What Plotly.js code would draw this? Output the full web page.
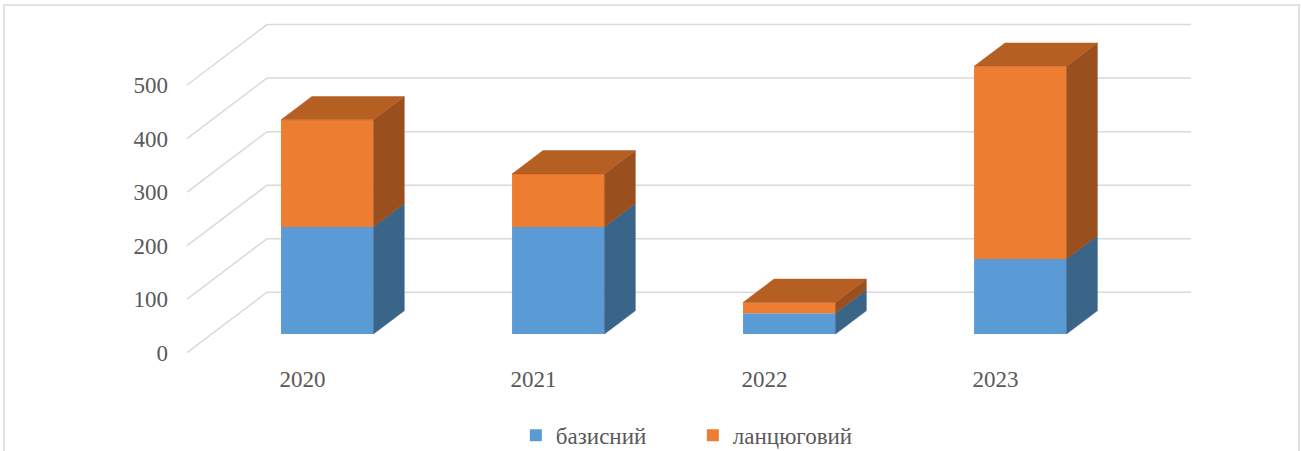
<!DOCTYPE html>
<html>
<head>
<meta charset="utf-8">
<script src="https://cdn.plot.ly/plotly-3.0.1.min.js"></script>
<style>
  html, body { margin: 0; padding: 0; background: #ffffff; }
  #chart { width: 1301px; height: 451px; }
</style>
</head>
<body>
<div id="chart"></div>
<script>
// ---- data ----
const years = ['2020', '2021', '2022', '2023'];
const basis = [200, 200, 39, 140];   // базисний
const chain = [200, 99, 20, 360];    // ланцюговий
const yTicks = [0, 100, 200, 300, 400, 500];

// ---- 3D look (projection constants, in axis units) ----
const DEPTH_X = 0.3463;   // x shift for full depth (front plane -> back wall)
const DEPTH_Y = 112.9;    // y shift for full depth
const BAR_FRONT = 0.309;  // depth of bar front faces
const BAR_BACK = 0.695;   // depth of bar back faces
const BAR_W = 0.4;
const X_MIN = -0.5, X_MAX = 3.5;

const colors = {
  blue: '#5B9BD5', blueSide: '#3A6589', blueTop: '#4A7DAE',
  orange: '#ED7D31', orangeSide: '#9A501E', orangeTop: '#B65F22',
  grid: '#D9D9D9', text: '#595959'
};

function P(x, v, d) { return [x + d * DEPTH_X, v + d * DEPTH_Y]; }

const traces = [];

// gridlines (side wall diagonal + back wall line), drawn below all traces
const gridShapes = [];
yTicks.forEach(v => {
  const a = P(X_MIN, v, 0), b = P(X_MIN, v, 1), c = P(X_MAX, v, 1);
  gridShapes.push({
    type: 'path', xref: 'x', yref: 'y', layer: 'below',
    path: `M${a[0]},${a[1]}L${b[0]},${b[1]}L${c[0]},${c[1]}`,
    line: { color: colors.grid, width: 1.5 }
  });
});

function poly(pts, color) {
  const xs = pts.map(p => p[0]), ys = pts.map(p => p[1]);
  xs.push(xs[0]); ys.push(ys[0]);
  traces.push({ type: 'scatter', mode: 'lines', x: xs, y: ys, fill: 'toself', fillcolor: color,
    line: { color: color, width: 0.5 }, showlegend: false, hoverinfo: 'skip' });
}

years.forEach((yr, i) => {
  const segs = [
    { v0: 0, v1: basis[i], side: colors.blueSide, top: colors.blueTop },
    { v0: basis[i], v1: basis[i] + chain[i], side: colors.orangeSide, top: colors.orangeTop }
  ];
  const xl = i - BAR_W / 2, xr = i + BAR_W / 2;
  segs.forEach((s, k) => {
    // right side face
    poly([P(xr, s.v0, BAR_FRONT), P(xr, s.v0, BAR_BACK), P(xr, s.v1, BAR_BACK), P(xr, s.v1, BAR_FRONT)], s.side);
    // top face of the stack
    if (k === segs.length - 1) {
      poly([P(xl, s.v1, BAR_FRONT), P(xl, s.v1, BAR_BACK), P(xr, s.v1, BAR_BACK), P(xr, s.v1, BAR_FRONT)], s.top);
    }
  });
});

// front faces as stacked bars
const xFront = years.map((_, i) => P(i, 0, BAR_FRONT)[0]);
const base0 = P(0, 0, BAR_FRONT)[1];
traces.push({ type: 'bar', name: 'базисний', x: xFront, y: basis, base: basis.map(() => base0),
  width: BAR_W, marker: { color: colors.blue, line: { width: 0 } }, hoverinfo: 'skip' });
traces.push({ type: 'bar', name: 'ланцюговий', x: xFront, y: chain, base: basis.map(b => base0 + b),
  width: BAR_W, marker: { color: colors.orange, line: { width: 0 } }, hoverinfo: 'skip' });

const FAMILY = 'Liberation Serif, Times New Roman, serif';
function mkFont() { return { family: FAMILY, size: 23, color: colors.text }; }

const layout = {
  width: 1301, height: 451,
  margin: { l: 180, r: 101, t: 20, b: 91 },
  paper_bgcolor: '#ffffff', plot_bgcolor: 'rgba(0,0,0,0)',
  barmode: 'overlay',
  hovermode: false,
  showlegend: true,
  font: mkFont(),
  xaxis: {
    type: 'linear', range: [-0.5303, 3.885], showgrid: false, zeroline: false, showline: false,
    tickvals: [0, 1, 2, 3], ticktext: years, ticks: '', tickfont: mkFont(), fixedrange: true,
    ticklabelstandoff: 3
  },
  yaxis: {
    range: [-13.6, 621.4], showgrid: false, zeroline: false, showline: false,
    tickvals: yTicks, ticktext: yTicks.map(String), ticks: '', tickfont: mkFont(), fixedrange: true,
    ticklabelstandoff: 11
  },
  legend: {
    orientation: 'h', xref: 'container', yref: 'container', x: 0.3965, y: 0.035,
    xanchor: 'left', yanchor: 'middle', font: mkFont(), traceorder: 'normal',
    entrywidth: 132, bgcolor: 'rgba(0,0,0,0)'
  },
  shapes: gridShapes.concat([{
    type: 'rect', xref: 'paper', yref: 'paper',
    x0: (4 - 180) / 1020, x1: (1299 - 180) / 1020,
    y0: (360 - 470) / 340, y1: (360 - 5) / 340,
    line: { color: '#D9D9D9', width: 1.5 }, fillcolor: 'rgba(0,0,0,0)', layer: 'below'
  }])
};

Plotly.newPlot('chart', traces, layout, { displayModeBar: false, staticPlot: true });
</script>
</body>
</html>
